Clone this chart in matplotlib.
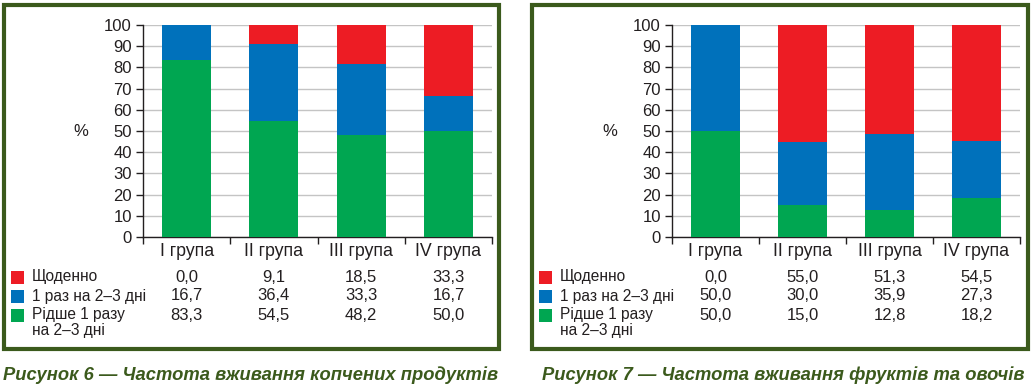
import matplotlib
matplotlib.use("Agg")
import matplotlib.pyplot as plt
from matplotlib.patches import Rectangle
from matplotlib.transforms import blended_transform_factory
import numpy as np

plt.rcParams['font.family'] = ['Liberation Sans', 'DejaVu Sans']

categories = ["I група", "II група", "III група", "IV група"]
series_names = ["Щоденно", "1 раз на 2–3 дні", "Рідше 1 разу\nна 2–3 дні"]

# Figure 6 – smoked products
fig6_daily = [0.0, 9.1, 18.5, 33.3]
fig6_once = [16.7, 36.4, 33.3, 16.7]
fig6_rare = [83.3, 54.5, 48.2, 50.0]

# Figure 7 – fruits and vegetables
fig7_daily = [0.0, 55.0, 51.3, 54.5]
fig7_once = [50.0, 30.0, 35.9, 27.3]
fig7_rare = [50.0, 15.0, 12.8, 18.2]

captions = ["Рисунок 6 — Частота вживання копчених продуктів",
            "Рисунок 7 — Частота вживання фруктів та овочів"]

yticks = list(range(0, 101, 10))

RED = "#ED1C24"
BLUE = "#0071BB"
GREEN = "#00A651"
BORDER = "#3B5A1C"
CAPTION = "#3B5A1C"
TEXT = "#231F20"

W, H = 1031, 386
fig = plt.figure(figsize=(W / 100, H / 100), dpi=100)

def fx(px):
    return px / W

def fy(py):
    return 1 - py / H

def panel(ax_left_px, ax_right_px, border_box, legend_x, caption_x, caption, daily, once, rare):
    bx0, by0, bx1, by1 = border_box
    fig.patches.append(Rectangle((fx(bx0), fy(by1)), fx(bx1 - bx0), (by1 - by0) / H,
                                 transform=fig.transFigure, fill=False,
                                 edgecolor=BORDER, linewidth=3.0, zorder=0))
    ax = fig.add_axes([fx(ax_left_px), fy(237), fx(ax_right_px - ax_left_px), (237 - 25) / H])
    x = np.arange(len(categories))
    w = 0.56
    rare = np.array(rare); once = np.array(once); daily = np.array(daily)
    ax.bar(x, rare, w, color=GREEN, zorder=3)
    ax.bar(x, once, w, bottom=rare, color=BLUE, zorder=3)
    ax.bar(x, daily, w, bottom=rare + once, color=RED, zorder=3)
    ax.set_xlim(-0.5, len(categories) - 0.5)
    ax.set_ylim(0, 100)
    ax.set_yticks(yticks)
    ax.set_yticklabels([str(t) for t in yticks], fontsize=12, color=TEXT)
    ax.yaxis.grid(True, color="#C4C4C4", linewidth=1.0, zorder=0)
    ax.set_axisbelow(True)
    ax.set_xticks(np.arange(len(categories) + 1) - 0.5)
    ax.set_xticklabels([])
    ax.tick_params(axis='x', length=5, width=1.0, color="#231F20", direction='out')
    ax.tick_params(axis='y', length=5, width=1.0, color="#231F20", direction='out', pad=3)
    for s in ["top", "right"]:
        ax.spines[s].set_visible(False)
    for s in ["left", "bottom"]:
        ax.spines[s].set_color("#231F20")
        ax.spines[s].set_linewidth(1.0)
    fig.text(fx(ax_left_px - 62), fy(132), "%", fontsize=12, color=TEXT, ha='center', va='center')

    tr = blended_transform_factory(ax.transData, fig.transFigure)
    for i, c in enumerate(categories):
        ax.text(i, fy(252), c, transform=tr, ha='center', va='center', fontsize=12.8, color=TEXT)
    rows = [(daily, RED, 277), (once, BLUE, 296), (rare, GREEN, 315)]
    for (vals, col, ypx), name in zip(rows, series_names):
        fig.patches.append(Rectangle((fx(legend_x), fy(ypx + 6.5)), fx(13), 13 / H,
                                     transform=fig.transFigure, facecolor=col, edgecolor='none'))
        for k, line in enumerate(name.split("\n")):
            fig.text(fx(legend_x + 21), fy(ypx + 16 * k), line, fontsize=11.2, color=TEXT,
                     ha='left', va='center')
        for i, v in enumerate(vals):
            ax.text(i, fy(ypx), f"{v:.1f}".replace(".", ","), transform=tr,
                    ha='center', va='center', fontsize=12, color=TEXT)
    fig.text(fx(caption_x), fy(375), caption, fontsize=13.2, color=CAPTION,
             fontweight='bold', fontstyle='italic', ha='left', va='center')

panel(143, 492, (4, 5, 499, 349), 11, 3, captions[0], fig6_daily, fig6_once, fig6_rare)
panel(672, 1020, (532, 5, 1028, 349), 539, 542, captions[1], fig7_daily, fig7_once, fig7_rare)

fig.savefig("out.png", dpi=100)
